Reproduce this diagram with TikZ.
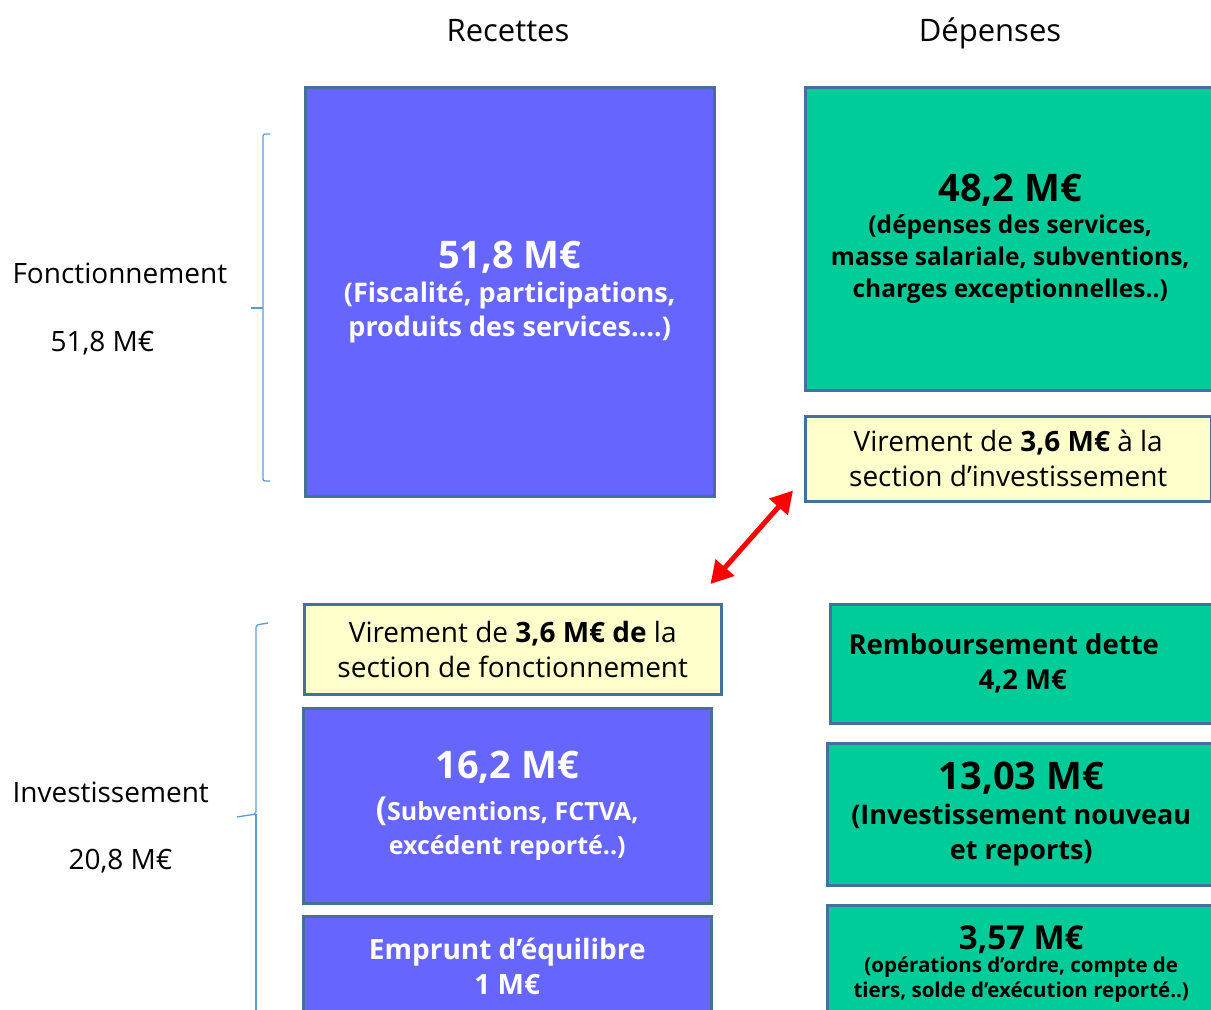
\documentclass[tikz,border=0pt]{standalone}
\usepackage{fontspec}
\setmainfont{Open Sans}
\usetikzlibrary{arrows.meta, calc}
\definecolor{recblue}{HTML}{6666FF}
\definecolor{depgreen}{HTML}{00CC99}
\definecolor{viryellow}{HTML}{FFFFCC}
\definecolor{boxedge}{HTML}{41719C}
\definecolor{braceblue}{HTML}{5B9BD5}

\begin{document}
\begin{tikzpicture}[x=1pt, y=-1pt,
	box/.style={draw=boxedge, line width=2.5pt, inner sep=0pt, align=center, anchor=north west},
	recbox/.style={box, fill=recblue, text=white},
	depbox/.style={box, fill=depgreen, text=black},
	virbox/.style={box, fill=viryellow, text=black, font=\fontsize{28}{35}\selectfont},
	title/.style={font=\fontsize{31}{36}\selectfont, anchor=base},
	label/.style={font=\fontsize{28}{32}\selectfont, anchor=west},
	bracket/.style={draw=braceblue, line width=1.3pt, rounded corners=2pt}]
	\def\big{\fontsize{38}{42}\selectfont}
	\useasboundingbox (0,0) rectangle (1211,1010);
	\clip (0,0) rectangle (1211,1010);

	% column titles
	\node[title] (rec) at (508,41) {Recettes};
	\node[title] (dep) at (990,41) {Dépenses};

	% fonctionnement
	\node[recbox, font=\bfseries\fontsize{27}{34}\selectfont, minimum width=409, minimum height=409] (R1) at (304,86)
		{{\big 51,8 M€}\\[0pt] (Fiscalité, participations,\\ produits des services….)};
	\node[depbox, font=\bfseries\fontsize{24.5}{32}\selectfont, minimum width=410, minimum height=303] (D1) at (804,86)
		{{\big 48,2 M€}\\[0pt] (dépenses des services,\\ masse salariale, subventions,\\ charges exceptionnelles..)};
	\node[virbox, minimum width=406, minimum height=85] (D2) at (804,415)
		{Virement de \textbf{3,6 M€} à la\\ section d’investissement};

	% investissement
	\node[virbox, minimum width=417, minimum height=90] (R2) at (303,603)
		{Virement de \textbf{3,6 M€ de} la\\ section de fonctionnement};
	\node[recbox, font=\bfseries\fontsize{25}{34}\selectfont, minimum width=408, minimum height=195] (R3) at (302,707)
		{{\big 16,2 M€}\\[8pt] {\fontsize{33}{34}\selectfont(}Subventions, FCTVA,\\ excédent reporté..)};
	\node[recbox, font=\bfseries\fontsize{28}{35}\selectfont, minimum width=408, minimum height=100] (R4) at (302,915)
		{Emprunt d’équilibre\\ 1 M€};
	\node[depbox, font=\bfseries\fontsize{27.5}{35}\selectfont, minimum width=385, minimum height=119] (D3) at (829,603)
		{Remboursement dette\hspace*{38pt}\\ 4,2 M€};
	\node[depbox, font=\bfseries\fontsize{27}{35}\selectfont, minimum width=388, minimum height=142] (D4) at (826,742)
		{{\big 13,03 M€}\\[0pt] (Investissement nouveau\\ et reports)};
	\node[depbox, font=\bfseries\fontsize{20.5}{25}\selectfont, minimum width=388, minimum height=118] (D5) at (826,904)
		{{\fontsize{33}{36}\selectfont 3,57 M€}\\[-2pt] (opérations d’ordre, compte de\\ tiers, solde d’exécution reporté..)};

	% virement
	\coordinate (vA) at ($(D2.south west)+(-11,-12)$);
	\coordinate (vB) at ($(R2.north east)+(-12,-19)$);
	\draw[red, line width=5pt, {Triangle[length=22pt, width=24pt]}-{Triangle[length=22pt, width=24pt]}] (vA) -- (vB);

	% brackets
	\draw[bracket] (270,134) -- (263,134) -- (263,481) -- (270,481);
	\draw[bracket] (251,308) -- (263,308);
	\draw[bracket] (268,623) -- (256,625) -- (256,814) -- (237,817);
	\draw[bracket] (256,814) -- (256,1012);

	\node[label] (fonc) at (9,273) {Fonctionnement};
	\node[label] (foncval) at (47,343) {51,8 M€};
	\node[label] (inv) at (9,792) {Investissement};
	\node[label] (invval) at (65,861) {20,8 M€};
\end{tikzpicture}
\end{document}
